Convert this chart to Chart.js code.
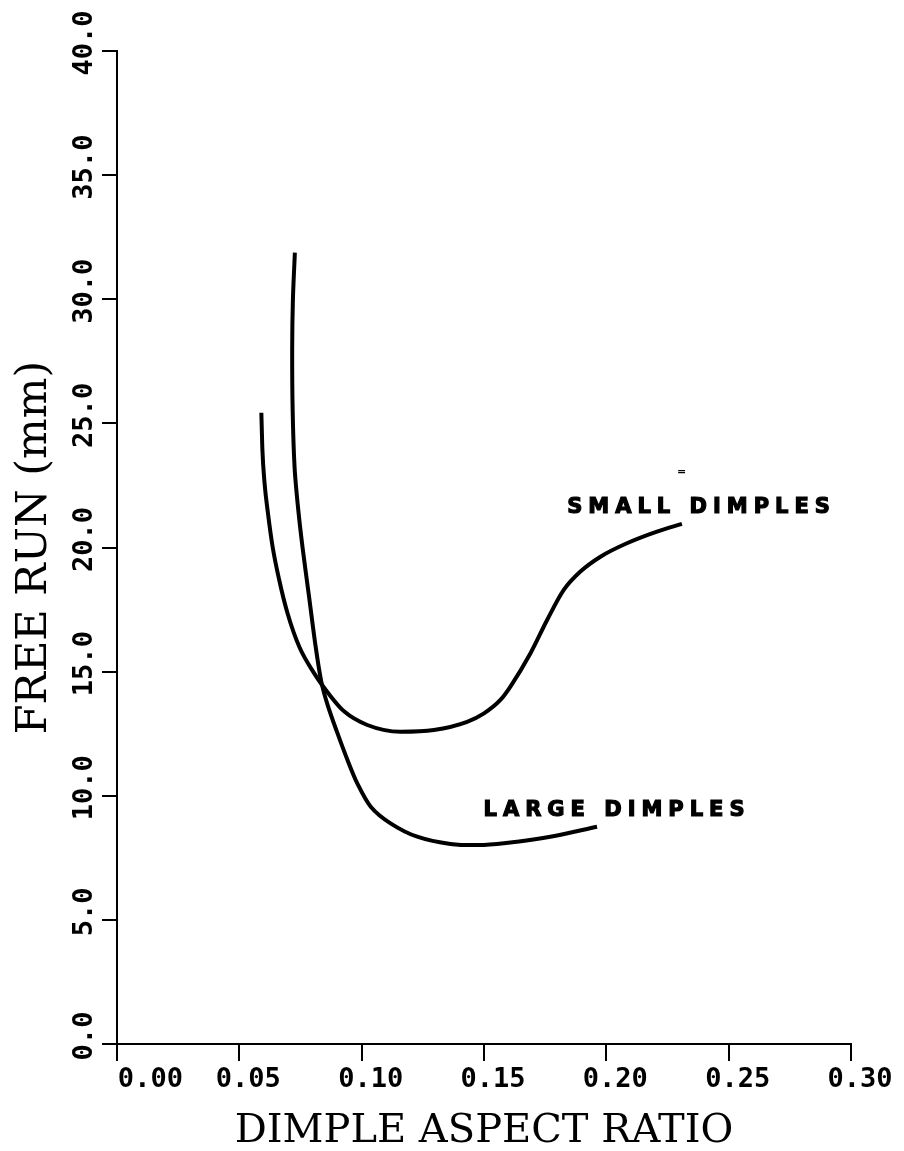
<!DOCTYPE html>
<html>
<head>
<meta charset="utf-8">
<script src="https://cdn.jsdelivr.net/npm/chart.js@4.4.1/dist/chart.umd.min.js"></script>
<style>
  html, body { margin: 0; padding: 0; background: #fff; }
  canvas { display: block; }
</style>
</head>
<body>
<canvas id="freeRunChart" width="904" height="1151"></canvas>
<script>
// small dimples curve
const smallX = [0.0590, 0.0594, 0.0603, 0.0617, 0.0636, 0.0663, 0.0697, 0.0745, 0.0806, 0.0870, 0.0928, 0.1023, 0.1159, 0.1295, 0.1431, 0.1500, 0.1567, 0.1608, 0.1690, 0.1758, 0.1826, 0.1894, 0.1976, 0.2084, 0.2207, 0.2309];
const smallY = [25.43, 24.00, 22.60, 21.38, 20.03, 18.69, 17.35, 16.00, 14.93, 14.05, 13.40, 12.85, 12.58, 12.65, 12.98, 13.32, 13.86, 14.40, 15.74, 17.08, 18.29, 19.03, 19.63, 20.17, 20.64, 20.95];

// large dimples curve
const largeX = [0.0727, 0.0719, 0.0716, 0.0718, 0.0726, 0.0740, 0.0758, 0.0785, 0.0812, 0.0835, 0.0862, 0.0901, 0.0942, 0.0982, 0.1037, 0.1118, 0.1227, 0.1363, 0.1500, 0.1636, 0.1771, 0.1962];
const largeY = [31.88, 30.00, 28.00, 25.50, 23.20, 21.60, 20.03, 18.02, 16.00, 14.60, 13.62, 12.52, 11.44, 10.50, 9.56, 8.89, 8.35, 8.06, 8.02, 8.15, 8.35, 8.75];

// axis ticks
const xTickValues = [0, 0.05, 0.10, 0.15, 0.20, 0.25, 0.30];
const xTickLabels = ['   0.00', '0.05', '0.10', '0.15', '0.20', '0.25', '0.30'];
const yTickValues = [0, 5, 10, 15, 20, 25, 30, 35, 40];
const yTickLabels = ['0.0', '5.0', '10.0', '15.0', '20.0', '25.0', '30.0', '35.0', '40.0'];

// curve labels (data coordinates of the left end of the text)
const labelNames = ['SMALL DIMPLES', 'LARGE DIMPLES'];
const labelX = [0.184, 0.1498];
const labelY = [21.6, 9.39];

function toPoints(xs, ys) {
    return xs.map((x, i) => ({ x: x, y: ys[i] }));
}

const curveLabelPlugin = {
    id: 'curveLabels',
    afterDatasetsDraw(chart) {
        const { ctx, scales } = chart;
        ctx.save();
        ctx.fillStyle = '#000';
        ctx.strokeStyle = '#000';
        ctx.lineWidth = 1.2;
        ctx.textBaseline = 'middle';
        ctx.textAlign = 'left';
        ctx.font = 'bold 21px "DejaVu Sans"';
        ctx.letterSpacing = '6px';
        labelNames.forEach((name, i) => {
            const px = scales.x.getPixelForValue(labelX[i]);
            const py = scales.y.getPixelForValue(labelY[i]);
            ctx.fillText(name, px, py);
            ctx.strokeText(name, px, py);
        });
        // small stray mark above the small dimples label
        ctx.letterSpacing = '0px';
        ctx.font = 'bold 11px "DejaVu Sans"';
        ctx.fillText('=', scales.x.getPixelForValue(0.2289), scales.y.getPixelForValue(23.05));
        ctx.restore();
    }
};

const axisFont = { family: '"DejaVu Sans Mono"', size: 27, weight: 'bold' };

const ctx = document.getElementById('freeRunChart').getContext('2d');
const freeRunChart = new Chart(ctx, {
    type: 'line',
    data: {
        datasets: [
            {
                label: 'SMALL DIMPLES',
                data: toPoints(smallX, smallY),
                borderColor: '#000',
                borderWidth: 4,
                pointRadius: 0,
                cubicInterpolationMode: 'monotone',
                fill: false
            },
            {
                label: 'LARGE DIMPLES',
                data: toPoints(largeX, largeY),
                borderColor: '#000',
                borderWidth: 4,
                pointRadius: 0,
                tension: 0.3,
                fill: false
            }
        ]
    },
    options: {
        responsive: false,
        animation: false,
        layout: {
            padding: { top: 51, right: 53, left: 0, bottom: 0 }
        },
        scales: {
            x: {
                type: 'linear',
                min: 0,
                max: 0.30,
                afterBuildTicks: scale => { scale.ticks = xTickValues.map(v => ({ value: v })); },
                afterFit: scale => { scale.height = 107; },
                border: { display: true, color: '#000', width: 2 },
                grid: { display: true, drawOnChartArea: false, drawTicks: true, tickLength: 17, color: '#000', lineWidth: 2 },
                ticks: {
                    color: '#000',
                    font: axisFont,
                    padding: 3,
                    labelOffset: 9,
                    maxRotation: 0,
                    autoSkip: false,
                    callback: (value, index) => xTickLabels[index]
                },
                title: {
                    display: true,
                    text: 'DIMPLE ASPECT RATIO',
                    color: '#000',
                    font: { family: '"DejaVu Serif"', size: 40, lineHeight: 1 },
                    padding: { top: 0, bottom: -1 }
                }
            },
            y: {
                type: 'linear',
                min: 0,
                max: 40,
                afterBuildTicks: scale => { scale.ticks = yTickValues.map(v => ({ value: v })); },
                afterFit: scale => { scale.width = 117; },
                border: { display: true, color: '#000', width: 2 },
                grid: { display: true, drawOnChartArea: false, drawTicks: true, tickLength: 15, color: '#000', lineWidth: 2 },
                ticks: {
                    color: '#000',
                    font: axisFont,
                    minRotation: 90,
                    maxRotation: 90,
                    crossAlign: 'center',
                    padding: -15.5,
                    labelOffset: -8,
                    autoSkip: false,
                    callback: (value, index) => yTickLabels[index]
                },
                title: {
                    display: true,
                    text: 'FREE RUN (mm)',
                    color: '#000',
                    font: { family: '"DejaVu Serif"', size: 43, lineHeight: 1 },
                    padding: { top: 13, bottom: 0 }
                }
            }
        },
        plugins: {
            legend: { display: false },
            tooltip: { enabled: false }
        }
    },
    plugins: [curveLabelPlugin]
});
</script>
</body>
</html>
